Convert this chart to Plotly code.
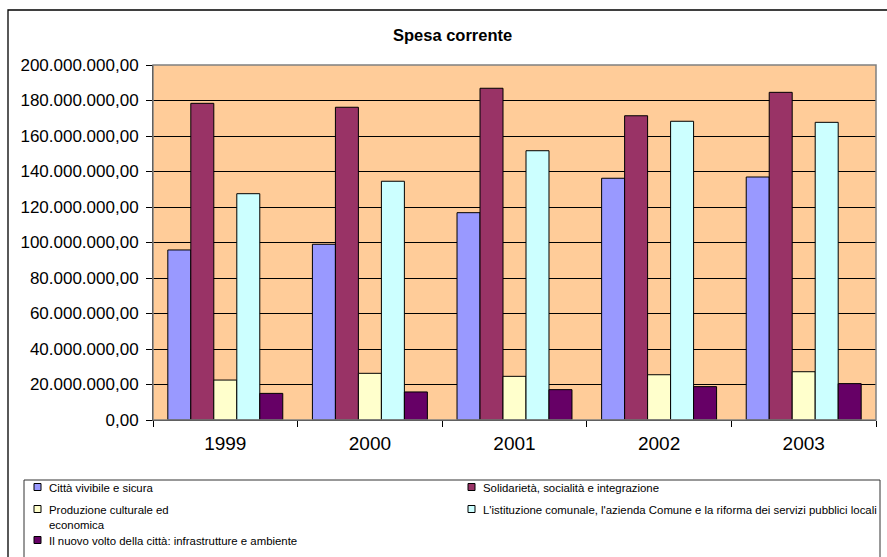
import plotly.graph_objects as go

# Years on the category axis
years = ["1999", "2000", "2001", "2002", "2003"]

# Current expenditure per programme area (euro)
citta_vivibile = [95_800_000, 99_000_000, 116_800_000, 136_200_000, 136_900_000]
solidarieta = [178_400_000, 176_200_000, 186_900_000, 171_400_000, 184_600_000]
produzione_culturale = [22_500_000, 26_300_000, 24_600_000, 25_500_000, 27_200_000]
istituzione_comunale = [127_500_000, 134_500_000, 151_700_000, 168_300_000, 167_700_000]
nuovo_volto = [15_000_000, 15_800_000, 17_100_000, 18_800_000, 20_500_000]

series_names = [
    "Città vivibile e sicura",
    "Solidarietà, socialità e integrazione",
    "Produzione culturale ed<br>economica",
    "L'istituzione comunale, l'azienda Comune e la riforma dei servizi pubblici locali",
    "Il nuovo volto della città: infrastrutture e ambiente",
]
series_values = [citta_vivibile, solidarieta, produzione_culturale,
                 istituzione_comunale, nuovo_volto]
series_colors = ["#9999FF", "#993366", "#FFFFCC", "#CCFFFF", "#660066"]

# Y axis ticks in Italian number format
y_tick_values = [0, 20e6, 40e6, 60e6, 80e6, 100e6, 120e6, 140e6, 160e6, 180e6, 200e6]
y_tick_labels = ["0,00", "20.000.000,00", "40.000.000,00", "60.000.000,00",
                 "80.000.000,00", "100.000.000,00", "120.000.000,00",
                 "140.000.000,00", "160.000.000,00", "180.000.000,00",
                 "200.000.000,00"]

W, H = 887, 557
PL, PR, PT, PB = 153, 876, 65, 420  # plot area in pixels


def fx(px):
    return (px - PL) / (PR - PL)


def fy(py):
    return (PB - py) / (PB - PT)


fig = go.Figure()
for name, vals, col in zip(series_names, series_values, series_colors):
    fig.add_trace(go.Bar(
        x=years, y=vals, name=name.replace("<br>", " "),
        marker=dict(color=col, line=dict(color="#000000", width=1)),
        showlegend=False,
    ))

shapes = []
annotations = []

# Outer chart frame
shapes.append(dict(type="rect", xref="paper", yref="paper",
                   x0=fx(8), x1=fx(905), y0=fy(10), y1=fy(575),
                   line=dict(color="#000000", width=1.3), layer="below"))
# Plot area border (grey on top/right)
shapes.append(dict(type="rect", xref="paper", yref="paper",
                   x0=0, x1=1, y0=0, y1=1,
                   line=dict(color="#808080", width=1.5), layer="above"))
# Legend frame
shapes.append(dict(type="rect", xref="paper", yref="paper",
                   x0=fx(24), x1=fx(880), y0=fy(480), y1=fy(575),
                   line=dict(color="#333333", width=1), layer="below"))

# Legend entries laid out in two columns
legend_pos = [(34, 487), (468, 487), (34, 509), (468, 509), (34, 540)]
for (lx, ly), name, col in zip(legend_pos, series_names, series_colors):
    shapes.append(dict(type="rect", xref="paper", yref="paper",
                       x0=fx(lx), x1=fx(lx + 7), y0=fy(ly - 3.5), y1=fy(ly + 3.5),
                       fillcolor=col, line=dict(color="#000000", width=1)))
    annotations.append(dict(xref="paper", yref="paper", x=fx(lx + 13),
                            y=fy(ly - 7), xanchor="left", yanchor="top",
                            text=name, showarrow=False, align="left",
                            font=dict(family="Liberation Sans, Arial", size=11.4,
                                      color="#000000")))

# Title
annotations.append(dict(xref="paper", yref="paper", x=fx(452), y=fy(35),
                        xanchor="center", yanchor="middle",
                        text="<b>Spesa corrente</b>", showarrow=False,
                        font=dict(family="Liberation Sans, Arial", size=16.5,
                                  color="#000000")))

fig.update_layout(
    width=W, height=H,
    margin=dict(l=PL, r=W - PR, t=PT, b=H - PB, pad=0),
    paper_bgcolor="#FFFFFF",
    plot_bgcolor="#FFCC99",
    barmode="group",
    bargap=0.205,
    bargroupgap=0,
    shapes=shapes,
    annotations=annotations,
    font=dict(family="Liberation Sans, Arial", color="#000000"),
)
fig.update_xaxes(
    type="category",
    showgrid=False,
    showline=True, linecolor="#000000", linewidth=1,
    ticks="outside", tickson="boundaries", ticklen=6, tickcolor="#000000",
    tickfont=dict(size=19, family="Liberation Sans, Arial"),
    ticklabelstandoff=6,
)
fig.update_yaxes(
    range=[0, 200e6],
    tickvals=y_tick_values, ticktext=y_tick_labels,
    showgrid=True, gridcolor="#000000", gridwidth=1,
    showline=True, linecolor="#000000", linewidth=1,
    ticks="outside", ticklen=6, tickcolor="#000000",
    tickfont=dict(size=17, family="Liberation Sans, Arial"),
    ticklabelstandoff=4,
    zeroline=False,
)

fig.write_html("out.html")
